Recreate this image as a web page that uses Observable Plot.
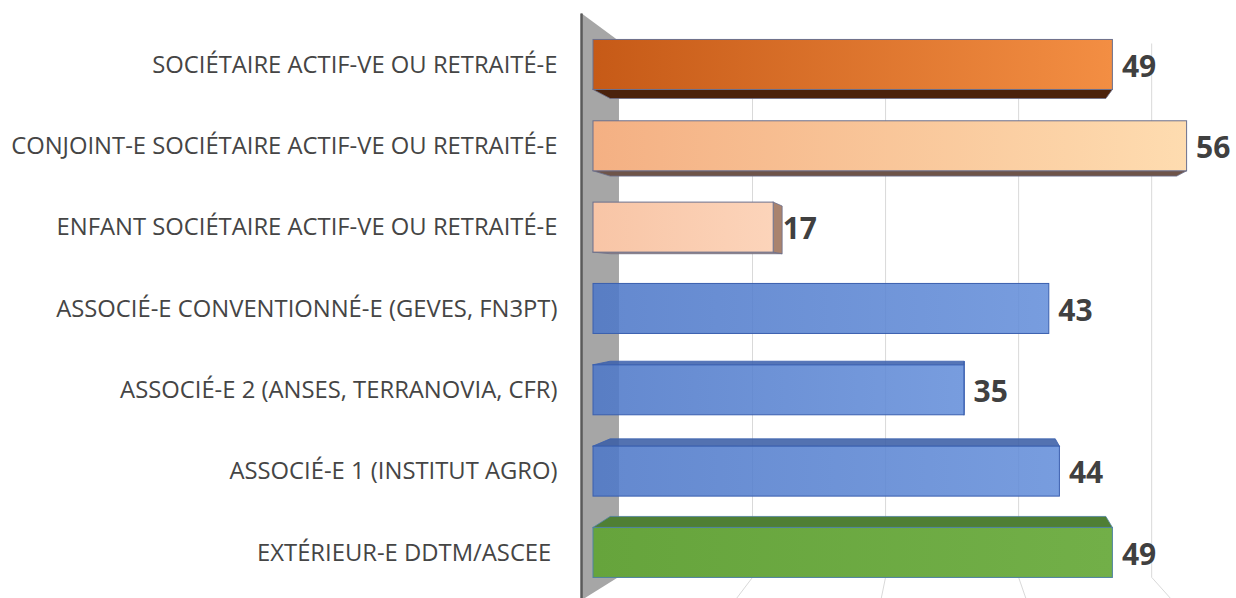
<!DOCTYPE html>
<html><head><meta charset="utf-8">
<script src="https://cdn.jsdelivr.net/npm/d3@7"></script>
<script src="https://cdn.jsdelivr.net/npm/@observablehq/plot@0.6"></script>
<style>html,body{margin:0;padding:0;background:#fff;overflow:hidden;}</style>
</head><body><div id="chart"></div>
<script>
// ---- data ----
const categories = [
  "SOCIÉTAIRE ACTIF-VE OU RETRAITÉ-E",
  "CONJOINT-E SOCIÉTAIRE ACTIF-VE OU RETRAITÉ-E",
  "ENFANT SOCIÉTAIRE ACTIF-VE OU RETRAITÉ-E",
  "ASSOCIÉ-E CONVENTIONNÉ-E (GEVES, FN3PT)",
  "ASSOCIÉ-E 2 (ANSES, TERRANOVIA, CFR)",
  "ASSOCIÉ-E 1 (INSTITUT AGRO)",
  "EXTÉRIEUR-E DDTM/ASCEE\u00a0"
];
const values = [49, 56, 17, 43, 35, 44, 49];
const gridValues = [15, 30, 45, 60];

// ---- styles ----
const gradLeft  = ["#c65a17", "#f4b083", "#f8c5a6", "#4e78c8", "#4e78c8", "#4e78c8", "#66a43c"];
const gradRight = ["#f38e43", "#fedcb0", "#fcd4ba", "#658fda", "#658fda", "#658fda", "#72af48"];
const depthFill = ["#4b220c", "#6e5449", "#a9836e", "#3e62ad", "#3e62ad", "#3b5ea6", "#4f7f34"];
const edgeColor = ["#6b6f8c", "#6b6f8c", "#6b6f8c", "#3a5fae", "#3a5fae", "#3a5fae", "#4f83a0"];
const barOpacity = [1, 1, 1, 0.88, 0.88, 0.88, 1];

// ---- 3D frame (in scale units) ----
const barH = 0.615;
const persp = {vx: 35.47, vy: 3.236, k: 0.0457};
const backWall = {x0: 2.45, s: 0.8368, gridTop: 0.236, wallTop: 0.211, bottom: 6.80, foot: 7.09, floorVx: 32.26, floorK: 0.0977};
const sideWall = {x: -1.13, top: -0.133};
const bx = v => backWall.x0 + v * backWall.s;

const rows = categories.map((name, i) => ({name, value: values[i], i, c: i + 0.5,
  fill: `url(#g${i})`, op: barOpacity[i], stroke: edgeColor[i]}));

const back = (x, y) => [x + persp.k * (persp.vx - x), y + persp.k * (persp.vy - y)];
const hFaces = [], vFaces = [];
rows.forEach(r => {
  const yT = r.c - barH / 2, yB = r.c + barH / 2, xL = 0, xR = r.value;
  const [xLb, yTb] = back(xL, yT);
  const [xRb, yBb] = back(xR, yB);
  const base = {id: r.i, fill: depthFill[r.i], op: r.op, stroke: r.stroke};
  if (yB < persp.vy) {
    hFaces.push({...base, y: yB, x1: xL, x2: xR}, {...base, y: yBb, x1: xLb, x2: xRb});
  }
  if (yT > persp.vy) {
    hFaces.push({...base, y: yT, x1: xL, x2: xR}, {...base, y: yTb, x1: xLb, x2: xRb});
  }
  if (xR < persp.vx) {
    vFaces.push({...base, x: xR, y1: yT, y2: yB}, {...base, x: xRb, y1: yTb, y2: yBb});
  }
});

const chart = Plot.plot({
  width: 1236, height: 598,
  marginLeft: 593, marginRight: 7, marginTop: 24, marginBottom: 5,
  x: {domain: [0, 60], range: [593, 1229], axis: null},
  y: {domain: [0, 7], range: [23.8, 593.1], axis: null},
  color: {type: "identity"},
  style: {fontFamily: "'Open Sans', sans-serif", background: "#fff", overflow: "visible"},
  marks: [
    // back-wall gridlines and floor lines
    Plot.link(gridValues, {x1: bx, x2: bx, y1: backWall.gridTop, y2: backWall.bottom, stroke: "#d9d9d9", strokeWidth: 1}),
    Plot.link(gridValues, {x1: bx, y1: backWall.bottom,
      x2: v => bx(v) + (bx(v) - backWall.floorVx) * backWall.floorK, y2: backWall.foot, stroke: "#d9d9d9", strokeWidth: 1}),
    // side wall
    Plot.areaY([{x: sideWall.x, y1: sideWall.top, y2: backWall.foot}, {x: backWall.x0, y1: backWall.wallTop, y2: backWall.bottom}],
      {x: "x", y1: "y1", y2: "y2", fill: "#a6a6a6"}),
    Plot.link([0], {x1: sideWall.x, x2: sideWall.x, y1: sideWall.top, y2: backWall.foot, stroke: "#5a5a5a", strokeWidth: 2.5}),
    // depth faces
    Plot.areaX(hFaces, {y: "y", x1: "x1", x2: "x2", z: "id", fill: "fill", fillOpacity: "op", stroke: "stroke", strokeWidth: 0.8}),
    Plot.areaY(vFaces, {x: "x", y1: "y1", y2: "y2", z: "id", fill: "fill", fillOpacity: "op", stroke: "stroke", strokeWidth: 0.8}),
    // front faces
    Plot.rect(rows, {x1: 0, x2: "value", y1: d => d.c - barH / 2, y2: d => d.c + barH / 2,
      fill: "fill", fillOpacity: "op", stroke: "stroke", strokeWidth: 1}),
    // category labels
    Plot.text(rows, {x: 0, y: "c", text: "name", textAnchor: "end", dx: -36, fontSize: 23.8, fill: "#454545"}),
    // value labels
    Plot.text(rows, {x: "value", y: "c", text: d => String(d.value), textAnchor: "start", dx: 9, dy: 2,
      fontSize: 30, fontWeight: "bold", fill: "#404040"})
  ]
});

// gradients
const NS = "http://www.w3.org/2000/svg";
const defs = document.createElementNS(NS, "defs");
rows.forEach(r => {
  const g = document.createElementNS(NS, "linearGradient");
  g.setAttribute("id", `g${r.i}`);
  g.setAttribute("x1", "0"); g.setAttribute("x2", "1"); g.setAttribute("y1", "0"); g.setAttribute("y2", "0");
  [[0, gradLeft[r.i]], [1, gradRight[r.i]]].forEach(([o, c]) => {
    const s = document.createElementNS(NS, "stop");
    s.setAttribute("offset", o); s.setAttribute("stop-color", c);
    g.appendChild(s);
  });
  defs.appendChild(g);
});
chart.insertBefore(defs, chart.firstChild);
document.getElementById("chart").appendChild(chart);
</script>
</body></html>
